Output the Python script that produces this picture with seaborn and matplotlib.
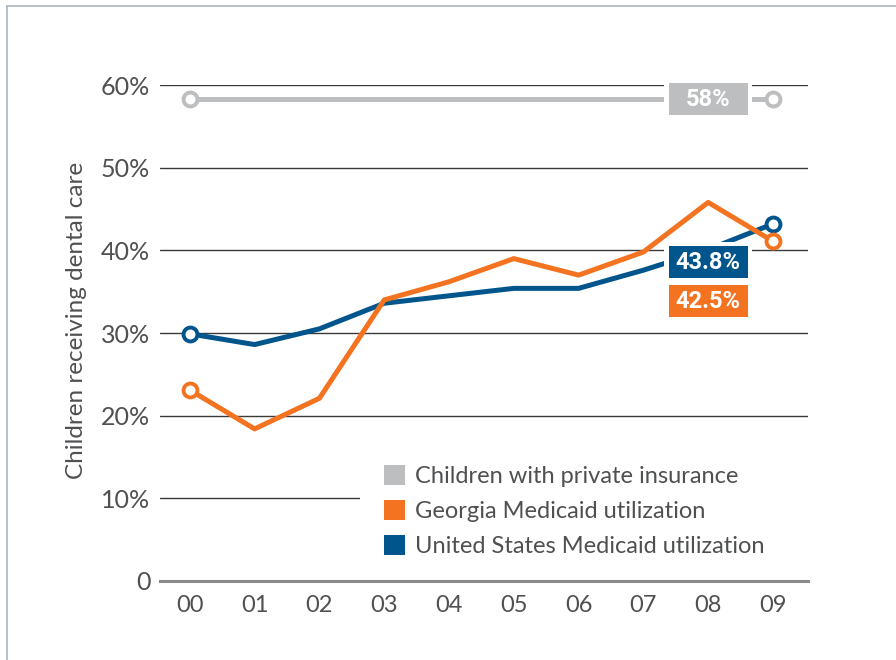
import matplotlib
matplotlib.use('Agg')
import matplotlib.pyplot as plt
from matplotlib.patches import Patch, Rectangle
from matplotlib.lines import Line2D
import pandas as pd
import seaborn as sns

# Chart data
years = ['00', '01', '02', '03', '04', '05', '06', '07', '08', '09']
private = [58.3, 58.3, 58.3, 58.3, 58.3, 58.3, 58.3, 58.3, 58.3, 58.3]
georgia = [23.1, 18.4, 22.1, 34.0, 36.2, 39.0, 37.0, 39.8, 45.8, 41.1]
united_states = [29.9, 28.6, 30.5, 33.6, 34.5, 35.4, 35.4, 37.6, 40.1, 43.2]
series_names = ['Children with private insurance',
                'Georgia Medicaid utilization',
                'United States Medicaid utilization']
callouts = ['58%', '43.8%', '42.5%']
y_ticks = [0, 10, 20, 30, 40, 50, 60]
y_tick_labels = ['0', '10%', '20%', '30%', '40%', '50%', '60%']

colors = ['#bcbec0', '#f37321', '#00558c']
text_color = '#4f5052'

df = pd.DataFrame({'x': range(len(years)), 'private': private,
                   'georgia': georgia, 'us': united_states})

sns.set_theme(style='white')
plt.rcParams['font.family'] = ['Lato', 'DejaVu Sans']

fig = plt.figure(figsize=(8.96, 6.6), dpi=100)
ax = fig.add_axes([160 / 896, 79 / 660, 648 / 896, 496 / 660])

# outer frame (top and left edges visible)
fig.add_artist(Line2D([7 / 896, 1], [1 - 6 / 660, 1 - 6 / 660], color='#a9b5bc', lw=1.2))
fig.add_artist(Line2D([7 / 896, 7 / 896], [0, 1 - 6 / 660], color='#a9b5bc', lw=1.2))

marker_kw = dict(marker='o', markevery=[0, len(years) - 1], markersize=10,
                 markerfacecolor='white', markeredgewidth=2.8, linewidth=3.6)
for col, c, z in [('private', colors[0], 3), ('us', colors[2], 4), ('georgia', colors[1], 5)]:
    sns.lineplot(data=df, x='x', y=col, ax=ax, color=c, markeredgecolor=c,
                 zorder=z, clip_on=False, legend=False, **marker_kw)

# callout boxes
box_w, box_h = 1.22, 3.87
for label, yc, c in [(callouts[0], 58.3, colors[0]), (callouts[1], 38.6, colors[2]),
                     (callouts[2], 33.9, colors[1])]:
    ax.add_patch(Rectangle((8 - box_w / 2 - 0.065, yc - box_h / 2 - 0.5), box_w + 0.13, box_h + 1.0,
                           facecolor='white', edgecolor='none', zorder=6, clip_on=False))
    ax.add_patch(Rectangle((8 - box_w / 2, yc - box_h / 2), box_w, box_h,
                           facecolor=c, edgecolor='none', zorder=7, clip_on=False))
    ax.text(8, yc - 0.1, label, ha='center', va='center', color='white', fontsize=17,
            fontweight='bold', family=['Roboto', 'DejaVu Sans'], zorder=8)

ax.set_xlim(-0.46, 9.54)
ax.set_ylim(0, 60)
ax.set_xticks(range(len(years)))
ax.set_xticklabels(years)
ax.set_yticks(y_ticks)
ax.set_yticklabels(y_tick_labels)
ax.tick_params(axis='x', length=0, pad=10, labelsize=17, labelcolor=text_color)
ax.tick_params(axis='y', length=0, pad=7, labelsize=18, labelcolor=text_color)
ax.yaxis.grid(True, color='#3a3a3a', linewidth=1.0)
ax.set_axisbelow(True)

for s in ['top', 'right', 'left']:
    ax.spines[s].set_visible(False)
ax.spines['bottom'].set_color('#8a8a8c')
ax.spines['bottom'].set_linewidth(2.2)
ax.spines['bottom'].set_zorder(9)

ax.set_xlabel('')
ax.set_ylabel('Children receiving dental care', fontsize=17.5, color=text_color)
ax.yaxis.set_label_coords(-0.113, 0.526)

# white panel behind the legend hides the gridline there
ax.add_patch(Rectangle((0.3086, 0.03), 0.6914, 0.256, transform=ax.transAxes,
                       facecolor='white', edgecolor='none', zorder=2.3))
handles = [Patch(facecolor=c, edgecolor='none') for c in colors]
leg = ax.legend(handles, series_names, loc='upper left', bbox_to_anchor=(0.3056, 0.286),
                frameon=False, fontsize=17, handlelength=0.9, handleheight=0.9,
                handletextpad=0.4, labelspacing=0.55, borderpad=1.1, borderaxespad=0)
for t in leg.get_texts():
    t.set_color(text_color)
leg.set_zorder(2.4)

fig.savefig('out.png', dpi=100)
